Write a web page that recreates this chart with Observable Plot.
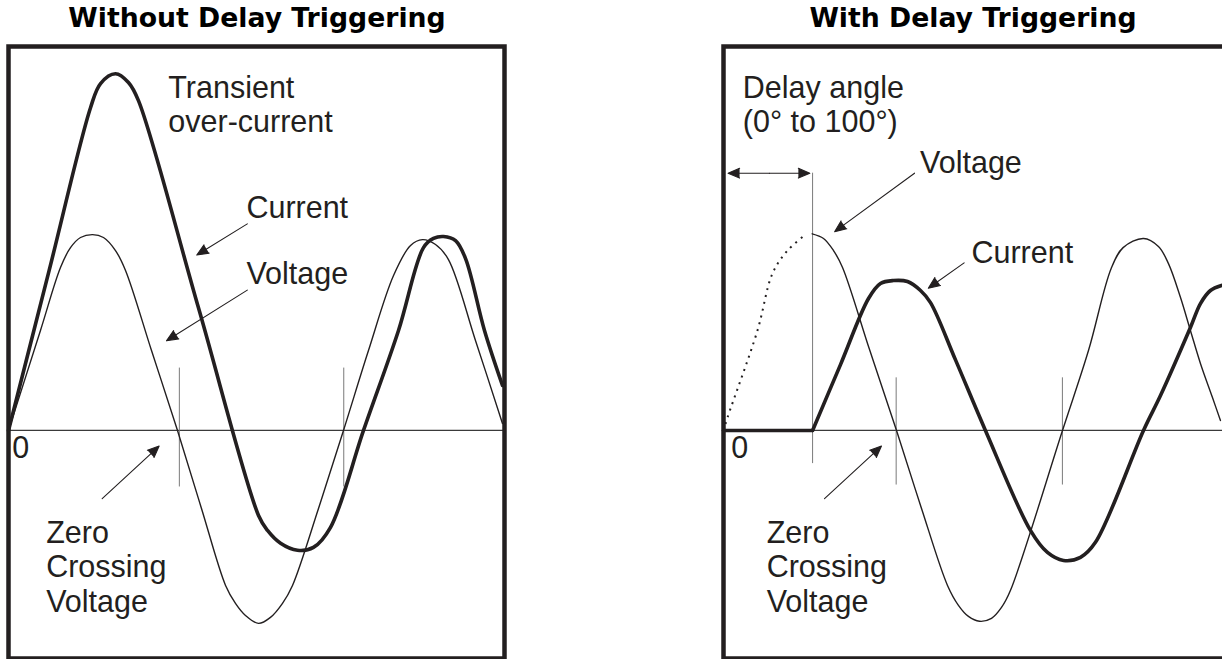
<!DOCTYPE html>
<html><head><meta charset="utf-8">
<script src="https://cdn.jsdelivr.net/npm/d3@7"></script>
<script src="https://cdn.jsdelivr.net/npm/@observablehq/plot@0.6"></script>
<style>
html,body{margin:0;padding:0;background:#fff;overflow:hidden}
#wrap{position:relative;width:1222px;height:659px;overflow:hidden;background:#fff}
.panel{position:absolute;top:0}
.title{height:36px;line-height:36px;font-family:"DejaVu Sans",Verdana,sans-serif;font-weight:bold;font-size:26.7px;color:#000;text-align:center;white-space:nowrap}
.panel svg{display:block}
</style></head><body>
<div id="wrap">
 <div class="panel" id="pl" style="left:0;width:515px"><div class="title" style="width:514px">Without Delay Triggering</div></div>
 <div class="panel" id="pr" style="left:715px;width:512px"><div class="title" style="width:516px">With Delay Triggering</div></div>
</div>
<script>
// x: phase angle in degrees, y: amplitude in % of peak line voltage
const leftVoltageX = [0, 34.8, 56.6, 67.5, 78.4, 91.5, 103.4, 116.5, 127.4, 155.7, 184, 210.1, 236.3, 247.1, 258, 272.2, 285.2, 298.3, 309.2, 337.5, 364.7, 391.9, 419.2, 437.7, 450.7, 464.9, 479, 508.4, 537.8];
const leftVoltageY = [0, 51.3, 83.6, 93.8, 99, 100.5, 99, 92.3, 82.1, 41, 0, -40, -79.5, -88.7, -94.9, -99, -95.9, -88.7, -79.5, -40, 0, 41, 79.5, 94.9, 97.9, 95.4, 87.7, 46.2, 3.6];
const leftCurrentX = [0, 44.2, 89.3, 100.2, 116.5, 130.6, 141.5, 206.9, 272.2, 282, 296.2, 314.6, 332, 350.6, 386.5, 424.6, 451.8, 462.7, 473.6, 486.7, 497.6, 518.2, 537.8];
const leftCurrentY = [0, 82, 165.6, 178, 183, 178.5, 169.2, 62.8, -43.6, -51.3, -57.9, -61.5, -60, -49.7, 0, 51.3, 93.8, 98.5, 99.5, 97.4, 88.2, 51.3, 23.1];
const leftZeroCrossings = [186, 365];

const delayAngle = 97;
const rightVoltageDottedX = [0, 4.4, 37, 53.3, 69.7, 89.3];
const rightVoltageDottedY = [0, 6.7, 51.3, 80.5, 92.3, 100.5];
const rightVoltageX = [96.6, 108.9, 119.8, 129.6, 159, 188.4, 215.6, 243.9, 255.8, 266.7, 278.7, 291.8, 302.7, 312.5, 369.1, 397.4, 422.1, 435.1, 457.3, 473.6, 484.5, 497.6, 508.4, 519.3, 532.4, 541.1];
const rightVoltageY = [100.9, 98.5, 92.3, 83.6, 41.5, 0, -40, -79.5, -89.7, -95.4, -97.9, -96.4, -90.8, -82, 0, 41, 83.1, 93.8, 98.5, 94.4, 85.6, 68.2, 51.3, 34.4, 16.9, 5.1];
const rightCurrentOffX = [0, 97];
const rightCurrentOffY = [0, 0];
const rightCurrentX = [97, 127.4, 157.9, 170.9, 185.1, 200.3, 214.5, 225.4, 252.6, 285.2, 334.2, 352.7, 370.2, 388.7, 405, 457.3, 475.8, 508.4, 519.3, 530.2, 542.2];
const rightCurrentY = [0, 33.8, 67.7, 75.4, 76.9, 76.4, 71.8, 65.6, 36.2, 0, -51.3, -62.6, -66.7, -65.1, -57.4, 0, 17.9, 52.8, 65.1, 71.8, 74.4];
const rightZeroCrossings = [188, 369];

const leftLabels = [
  {text: "Transient\nover-current", x: 174, y: 153},
  {text: "Current", x: 259, y: 109},
  {text: "Voltage", x: 259, y: 75},
  {text: "0", x: 4, y: -14},
  {text: "Zero\nCrossing\nVoltage", x: 41, y: -93}
];
const rightLabels = [
  {text: "Delay angle\n(0° to 100°)", x: 21, y: 153},
  {text: "Voltage", x: 214, y: 132},
  {text: "Current", x: 270, y: 86},
  {text: "0", x: 8.5, y: -14},
  {text: "Zero\nCrossing\nVoltage", x: 47, y: -93}
];
const leftArrows = [
  {x1: 260, y1: 106, x2: 205, y2: 90},
  {x1: 260, y1: 72, x2: 172, y2: 46},
  {x1: 102, y1: -35, x2: 164, y2: -8}
];
const rightArrows = [
  {x1: 50, y1: 132, x2: 5, y2: 132},
  {x1: 50, y1: 132, x2: 94, y2: 132},
  {x1: 208, y1: 132, x2: 121, y2: 102},
  {x1: 262, y1: 86, x2: 223, y2: 73},
  {x1: 110, y1: -35, x2: 172, y2: -8}
];

const INK = "#231f20";
const series = (xs, ys) => ({data: {length: xs.length}, x: xs, y: ys});

function panel({width, marginRight, xDomain, lines, markers, arrows, labels}) {
  const marks = [
    Plot.ruleY([0], {stroke: "#3a3a3a", strokeWidth: 1.3}),
    Plot.ruleX(markers, {x: "x", y1: "y1", y2: "y2", stroke: "#7a7a7a", strokeWidth: 1})
  ];
  for (const L of lines) {
    marks.push(Plot.line(L.s.data, {x: L.s.x, y: L.s.y, curve: L.curve || "catmull-rom", stroke: INK,
      strokeWidth: L.w, strokeDasharray: L.dash, strokeLinecap: L.dash ? "butt" : "round", strokeLinejoin: "round"}));
  }
  marks.push(
    Plot.arrow(arrows, {x1: "x1", y1: "y1", x2: "x2", y2: "y2", stroke: INK, fill: INK, strokeWidth: 1.1, headLength: 17, headAngle: 46}),
    Plot.text(labels, {x: "x", y: "y", text: "text", textAnchor: "start", lineAnchor: "bottom", lineHeight: 1.125,
      fontSize: 30.5, fontFamily: "Liberation Sans, Arial, sans-serif", fill: INK}),
    Plot.frame({stroke: INK, strokeWidth: 4.5})
  );
  return Plot.plot({
    width, height: 623,
    marginLeft: 8, marginRight, marginTop: 10, marginBottom: 1,
    x: {domain: xDomain, axis: null},
    y: {domain: [-117, 197], axis: null},
    style: {background: "transparent"},
    marks
  });
}

document.getElementById("pl").appendChild(panel({
  width: 515, marginRight: 11, xDomain: [0, 540],
  lines: [
    {s: series(leftVoltageX, leftVoltageY), w: 1.4},
    {s: series(leftCurrentX, leftCurrentY), w: 3.6}
  ],
  markers: leftZeroCrossings.map(x => ({x, y1: 32, y2: -29})),
  arrows: leftArrows, labels: leftLabels
}));

document.getElementById("pr").appendChild(panel({
  width: 512, marginRight: 3, xDomain: [0, 545.5],
  lines: [
    {s: series(rightVoltageDottedX, rightVoltageDottedY), w: 2, dash: "2,5"},
    {s: series(rightVoltageX, rightVoltageY), w: 1.4},
    {s: series(rightCurrentOffX, rightCurrentOffY), w: 3.6, curve: "linear"},
    {s: series(rightCurrentX, rightCurrentY), w: 3.6}
  ],
  markers: [{x: delayAngle, y1: 132, y2: -17}, ...rightZeroCrossings.map(x => ({x, y1: 27, y2: -28}))],
  arrows: rightArrows, labels: rightLabels
}));
</script>
</body></html>
